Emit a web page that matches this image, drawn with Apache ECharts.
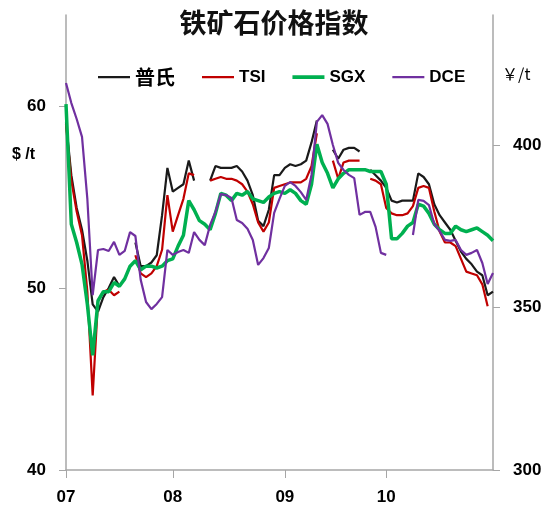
<!DOCTYPE html>
<html>
<head>
<meta charset="utf-8">
<script src="https://cdn.jsdelivr.net/npm/echarts@6/dist/echarts.min.js"></script>
<style>html,body{margin:0;padding:0;background:#fff}#c{width:548px;height:515px}</style>
</head>
<body>
<div id="c"></div>
<script>
var tickLabels = ['07', '08', '09', '10'];
var tickIndex = [0, 20, 41, 60];
var pointCount = 81;

var platts = [59.1,56.2,54.4,53.2,51.5,49.1,48.7,49.5,50.0,50.6,50.1,null,null,52.5,51.2,51.2,51.4,51.8,54.0,56.6,
  55.3,55.5,55.7,57.0,55.9,null,null,55.9,56.7,56.6,56.6,56.6,56.7,56.4,55.9,55.1,53.7,53.4,54.3,56.2,
  56.2,56.6,56.8,56.7,56.8,57.0,58.0,59.2,null,null,57.6,57.1,57.6,57.7,57.7,57.5,null,56.5,56.2,55.9,
  55.5,54.8,54.7,54.8,54.8,54.8,56.3,56.1,55.7,54.6,54.0,53.6,53.2,52.6,52.0,51.6,51.3,50.9,50.7,49.6,49.8];
var tsi = [59.0,55.9,54.2,52.9,49.8,44.1,49.3,49.8,49.9,49.6,49.8,null,null,51.8,50.8,50.6,50.8,51.2,52.1,55.1,
  53.1,54.0,54.9,56.3,56.2,null,null,55.9,56.0,56.1,56.0,56.0,55.9,55.7,55.3,54.6,53.6,53.1,53.6,55.5,
  55.6,55.7,55.8,55.8,55.8,56.0,56.7,58.5,null,null,57.0,56.0,56.9,57.0,57.0,57.0,null,56.0,55.9,55.7,
  54.4,54.1,54.0,54.0,54.1,54.5,55.5,55.6,55.5,54.2,53.1,52.5,52.5,52.3,51.6,50.9,50.8,50.7,50.2,49.0,null];
var sgx = [60.1,53.5,52.5,51.3,49.1,46.3,49.3,49.8,49.8,50.3,50.1,50.5,51.2,51.5,51.0,51.2,51.2,51.1,51.2,51.5,
  51.6,52.3,52.9,54.8,54.3,53.7,53.5,53.2,54.1,55.2,55.1,54.8,55.2,55.1,55.3,54.9,54.8,54.7,55.0,55.2,
  55.3,55.2,55.4,55.2,54.8,54.6,55.7,57.9,56.9,56.3,55.5,56.0,56.3,56.5,56.5,56.5,56.5,56.4,56.4,56.4,
  55.7,52.7,52.7,53.0,53.4,53.6,54.6,54.5,54.1,53.5,53.2,53.0,53.0,53.4,53.2,53.1,53.2,53.3,53.1,52.9,52.6];
var dce = [419.1,412.9,408.0,402.5,383.4,353.8,367.7,368.0,367.4,370.2,366.2,367.4,373.2,372.0,358.5,351.7,349.5,351.1,353.2,367.7,
  366.2,367.1,367.7,366.8,373.2,370.8,369.2,375.4,379.4,384.9,384.6,383.7,376.9,376.0,374.2,370.8,363.1,365.2,368.3,379.1,
  383.4,387.4,388.6,387.4,385.5,383.1,390.8,407.1,409.2,406.5,400.0,394.5,392.3,390.8,389.8,378.5,379.4,379.4,374.8,366.8,
  366.2,null,null,null,null,372.3,383.1,382.8,381.5,375.7,373.5,370.8,370.5,370.8,367.7,366.2,366.8,367.7,363.7,357.2,360.6];

var categories = [];
for (var i = 0; i < pointCount; i++) {
  var k = tickIndex.indexOf(i);
  categories.push(k >= 0 ? tickLabels[k] : 'p' + i);
}

var FONT = "'Liberation Sans','Noto Sans CJK SC',sans-serif";
var AX = '#a6a6a6';
var thinIcon = 'path://M0,0h0.01v0.01h-0.01z M0,6h32v2.2h-32z M31.99,13.99h0.01v0.01h-0.01z';
var thickIcon = 'path://M0,0h0.01v0.01h-0.01z M0,5.3h32v3.6h-32z M31.99,13.99h0.01v0.01h-0.01z';
var chart = echarts.init(document.getElementById('c'), null, {renderer: 'canvas'});
chart.setOption({
  animation: false,
  backgroundColor: '#fff',
  title: {
    text: '铁矿石价格指数', left: 'center', top: 4,
    textStyle: {fontFamily: "'Noto Sans CJK SC',sans-serif", fontSize: 27, fontWeight: 'bold', color: '#111'}
  },
  legend: {
    left: 93, top: 62, itemWidth: 32, itemHeight: 14, itemGap: 27,
    formatter: function (name) { return name === '普氏' ? '{c|' + name + '}' : name; },
    textStyle: {fontFamily: FONT, fontSize: 17, fontWeight: 'bold', color: '#000',
      rich: {c: {fontFamily: "'Noto Sans CJK SC',sans-serif", fontSize: 20, fontWeight: 'bold', color: '#000'}}},
    data: [
      {name: '普氏', icon: thinIcon},
      {name: 'TSI', icon: thinIcon},
      {name: 'SGX', icon: thickIcon},
      {name: 'DCE', icon: thinIcon}
    ]
  },
  grid: {left: 66, right: 55, top: 15, bottom: 45, containLabel: false},
  graphic: [
    {type: 'text', left: 12, top: 147, style: {text: '$ /t', fontFamily: FONT, fontSize: 16, fontWeight: 'bold', fill: '#000'}},
    {type: 'text', left: 502, top: 66, style: {text: '￥/t', fontFamily: "'Noto Sans CJK SC',sans-serif", fontSize: 16, fill: '#000'}}
  ],
  xAxis: {
    type: 'category', data: categories, boundaryGap: false,
    axisLine: {lineStyle: {color: AX, width: 1.5}},
    axisTick: {show: true, length: 8, interval: function (idx) { return tickIndex.indexOf(idx) >= 0; }, lineStyle: {color: AX}},
    axisLabel: {interval: function (idx) { return tickIndex.indexOf(idx) >= 0; }, margin: 19,
      fontFamily: FONT, fontSize: 17, fontWeight: 'bold', color: '#000'},
    splitLine: {show: false}
  },
  yAxis: [
    {type: 'value', min: 40, max: 65, interval: 10, position: 'left',
      axisLine: {show: true, lineStyle: {color: AX, width: 1.5}},
      axisTick: {show: true, length: 7, inside: false, customValues: [40, 50, 60], lineStyle: {color: AX}},
      axisLabel: {customValues: [40, 50, 60], margin: 20, fontFamily: FONT, fontSize: 17, fontWeight: 'bold', color: '#000'},
      splitLine: {show: false}},
    {type: 'value', min: 300, max: 440, interval: 50, position: 'right',
      axisLine: {show: true, lineStyle: {color: AX, width: 1.5}},
      axisTick: {show: true, length: 7, inside: false, customValues: [300, 350, 400], lineStyle: {color: AX}},
      axisLabel: {customValues: [300, 350, 400], margin: 20, fontFamily: FONT, fontSize: 17, fontWeight: 'bold', color: '#000'},
      splitLine: {show: false}}
  ],
  series: [
    {name: '普氏', type: 'line', yAxisIndex: 0, data: platts, symbol: 'none', color: '#1a1a1a', lineStyle: {width: 2.2, color: '#1a1a1a'}},
    {name: 'TSI', type: 'line', yAxisIndex: 0, data: tsi, symbol: 'none', color: '#c00000', lineStyle: {width: 2.2, color: '#c00000'}},
    {name: 'SGX', type: 'line', yAxisIndex: 0, data: sgx, symbol: 'none', color: '#00b050', lineStyle: {width: 3.5, color: '#00b050'}},
    {name: 'DCE', type: 'line', yAxisIndex: 1, data: dce, symbol: 'none', color: '#7030a0', lineStyle: {width: 2.2, color: '#7030a0'}}
  ]
});
</script>
</body>
</html>
